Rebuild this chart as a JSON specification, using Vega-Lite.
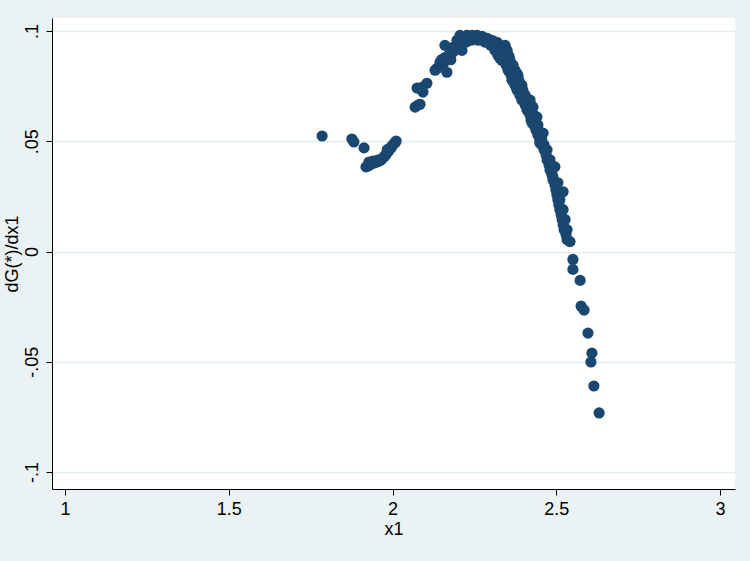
{
  "$schema": "https://vega.github.io/schema/vega-lite/v6.json",
  "width": 683,
  "height": 471,
  "autosize": {"type": "none"},
  "padding": {"left": 52, "top": 18, "right": 15, "bottom": 72},
  "background": "#EAF2F3",
  "config": {
    "view": {"fill": "white", "stroke": null},
    "font": "Liberation Sans",
    "axis": {
      "labelFont": "Liberation Sans",
      "titleFont": "Liberation Sans",
      "labelFontSize": 18,
      "titleFontSize": 18,
      "labelColor": "#000000",
      "titleColor": "#000000",
      "titleFontWeight": "normal",
      "domainColor": "#000000",
      "tickColor": "#000000",
      "domainWidth": 1,
      "tickWidth": 1,
      "tickSize": 6
    }
  },
  "data": {
    "values": [
      {"x1": 1.785, "dG": 0.0524}, {"x1": 1.876, "dG": 0.0510}, {"x1": 1.882, "dG": 0.0497}, {"x1": 1.913, "dG": 0.0470},
      {"x1": 1.919, "dG": 0.0384}, {"x1": 1.925, "dG": 0.0388}, {"x1": 1.930, "dG": 0.0392}, {"x1": 1.934, "dG": 0.0397},
      {"x1": 1.940, "dG": 0.0400}, {"x1": 1.944, "dG": 0.0402}, {"x1": 1.949, "dG": 0.0405}, {"x1": 1.953, "dG": 0.0407},
      {"x1": 1.958, "dG": 0.0410}, {"x1": 1.962, "dG": 0.0413}, {"x1": 1.967, "dG": 0.0418}, {"x1": 1.971, "dG": 0.0425},
      {"x1": 1.976, "dG": 0.0432}, {"x1": 1.980, "dG": 0.0440}, {"x1": 1.986, "dG": 0.0452}, {"x1": 1.990, "dG": 0.0460},
      {"x1": 1.992, "dG": 0.0468}, {"x1": 1.998, "dG": 0.0479}, {"x1": 2.004, "dG": 0.0488}, {"x1": 2.008, "dG": 0.0493},
      {"x1": 2.011, "dG": 0.0501}, {"x1": 1.928, "dG": 0.0405}, {"x1": 1.940, "dG": 0.0410}, {"x1": 1.955, "dG": 0.0415},
      {"x1": 1.984, "dG": 0.0462}, {"x1": 1.996, "dG": 0.0470},
      {"x1": 2.069, "dG": 0.0655}, {"x1": 2.078, "dG": 0.0664}, {"x1": 2.084, "dG": 0.0668}, {"x1": 2.075, "dG": 0.0741},
      {"x1": 2.090, "dG": 0.0745}, {"x1": 2.105, "dG": 0.0763}, {"x1": 2.093, "dG": 0.0723}, {"x1": 2.130, "dG": 0.0822},
      {"x1": 2.136, "dG": 0.0831}, {"x1": 2.145, "dG": 0.0858}, {"x1": 2.154, "dG": 0.0845}, {"x1": 2.166, "dG": 0.0813},
      {"x1": 2.160, "dG": 0.0880}, {"x1": 2.172, "dG": 0.0890}, {"x1": 2.185, "dG": 0.0905}, {"x1": 2.160, "dG": 0.0935},
      {"x1": 2.185, "dG": 0.0926}, {"x1": 2.197, "dG": 0.0940}, {"x1": 2.212, "dG": 0.0912}, {"x1": 2.197, "dG": 0.0958},
      {"x1": 2.206, "dG": 0.0980}, {"x1": 2.150, "dG": 0.0870}, {"x1": 2.178, "dG": 0.0870},
      {"x1": 2.212, "dG": 0.0971}, {"x1": 2.227, "dG": 0.0980}, {"x1": 2.243, "dG": 0.0980}, {"x1": 2.258, "dG": 0.0980},
      {"x1": 2.273, "dG": 0.0976}, {"x1": 2.289, "dG": 0.0967}, {"x1": 2.304, "dG": 0.0958}, {"x1": 2.319, "dG": 0.0949},
      {"x1": 2.298, "dG": 0.0953}, {"x1": 2.328, "dG": 0.0935}, {"x1": 2.344, "dG": 0.0935}, {"x1": 2.335, "dG": 0.0920},
      {"x1": 2.225, "dG": 0.0950}, {"x1": 2.240, "dG": 0.0958}, {"x1": 2.262, "dG": 0.0958}, {"x1": 2.282, "dG": 0.0950},
      {"x1": 2.300, "dG": 0.0935}, {"x1": 2.316, "dG": 0.0925},
      {"x1": 2.313, "dG": 0.0912}, {"x1": 2.337, "dG": 0.0912}, {"x1": 2.350, "dG": 0.0912},
      {"x1": 2.322, "dG": 0.0890}, {"x1": 2.344, "dG": 0.0890}, {"x1": 2.356, "dG": 0.0885},
      {"x1": 2.334, "dG": 0.0867}, {"x1": 2.359, "dG": 0.0867}, {"x1": 2.346, "dG": 0.0862},
      {"x1": 2.347, "dG": 0.0845}, {"x1": 2.368, "dG": 0.0845}, {"x1": 2.357, "dG": 0.0840},
      {"x1": 2.353, "dG": 0.0822}, {"x1": 2.374, "dG": 0.0822}, {"x1": 2.364, "dG": 0.0818},
      {"x1": 2.362, "dG": 0.0799}, {"x1": 2.383, "dG": 0.0799}, {"x1": 2.372, "dG": 0.0795},
      {"x1": 2.365, "dG": 0.0777}, {"x1": 2.386, "dG": 0.0777}, {"x1": 2.376, "dG": 0.0770},
      {"x1": 2.374, "dG": 0.0754}, {"x1": 2.395, "dG": 0.0754}, {"x1": 2.384, "dG": 0.0750},
      {"x1": 2.380, "dG": 0.0732}, {"x1": 2.398, "dG": 0.0732}, {"x1": 2.390, "dG": 0.0726},
      {"x1": 2.389, "dG": 0.0709}, {"x1": 2.405, "dG": 0.0709}, {"x1": 2.397, "dG": 0.0703},
      {"x1": 2.395, "dG": 0.0687}, {"x1": 2.411, "dG": 0.0687}, {"x1": 2.403, "dG": 0.0680},
      {"x1": 2.405, "dG": 0.0664}, {"x1": 2.423, "dG": 0.0664}, {"x1": 2.414, "dG": 0.0658},
      {"x1": 2.411, "dG": 0.0641}, {"x1": 2.423, "dG": 0.0641}, {"x1": 2.417, "dG": 0.0632},
      {"x1": 2.420, "dG": 0.0619}, {"x1": 2.432, "dG": 0.0619},
      {"x1": 2.423, "dG": 0.0596}, {"x1": 2.435, "dG": 0.0596},
      {"x1": 2.432, "dG": 0.0574}, {"x1": 2.444, "dG": 0.0574},
      {"x1": 2.438, "dG": 0.0551}, {"x1": 2.444, "dG": 0.0551},
      {"x1": 2.444, "dG": 0.0528}, {"x1": 2.456, "dG": 0.0528},
      {"x1": 2.450, "dG": 0.0506}, {"x1": 2.456, "dG": 0.0506},
      {"x1": 2.456, "dG": 0.0483}, {"x1": 2.463, "dG": 0.0483},
      {"x1": 2.463, "dG": 0.0461}, {"x1": 2.466, "dG": 0.0461},
      {"x1": 2.469, "dG": 0.0438}, {"x1": 2.472, "dG": 0.0416}, {"x1": 2.478, "dG": 0.0393}, {"x1": 2.481, "dG": 0.0370},
      {"x1": 2.487, "dG": 0.0348}, {"x1": 2.490, "dG": 0.0325}, {"x1": 2.496, "dG": 0.0303}, {"x1": 2.499, "dG": 0.0280},
      {"x1": 2.502, "dG": 0.0257}, {"x1": 2.505, "dG": 0.0235}, {"x1": 2.508, "dG": 0.0212}, {"x1": 2.511, "dG": 0.0190},
      {"x1": 2.515, "dG": 0.0167}, {"x1": 2.518, "dG": 0.0145}, {"x1": 2.521, "dG": 0.0122}, {"x1": 2.524, "dG": 0.0099},
      {"x1": 2.530, "dG": 0.0077}, {"x1": 2.533, "dG": 0.0054},
      {"x1": 2.350, "dG": 0.0899}, {"x1": 2.328, "dG": 0.0876}, {"x1": 2.359, "dG": 0.0836}, {"x1": 2.380, "dG": 0.0808},
      {"x1": 2.368, "dG": 0.0790}, {"x1": 2.389, "dG": 0.0745}, {"x1": 2.398, "dG": 0.0718}, {"x1": 2.420, "dG": 0.0687},
      {"x1": 2.429, "dG": 0.0655}, {"x1": 2.441, "dG": 0.0610}, {"x1": 2.426, "dG": 0.0583}, {"x1": 2.460, "dG": 0.0537},
      {"x1": 2.450, "dG": 0.0492}, {"x1": 2.472, "dG": 0.0461}, {"x1": 2.481, "dG": 0.0416}, {"x1": 2.496, "dG": 0.0384},
      {"x1": 2.490, "dG": 0.0339}, {"x1": 2.505, "dG": 0.0312}, {"x1": 2.521, "dG": 0.0271}, {"x1": 2.511, "dG": 0.0235},
      {"x1": 2.521, "dG": 0.0190}, {"x1": 2.527, "dG": 0.0145}, {"x1": 2.533, "dG": 0.0099}, {"x1": 2.542, "dG": 0.0045},
      {"x1": 2.551, "dG": -0.0036}, {"x1": 2.551, "dG": -0.0081}, {"x1": 2.573, "dG": -0.0131}, {"x1": 2.576, "dG": -0.0248},
      {"x1": 2.585, "dG": -0.0266}, {"x1": 2.597, "dG": -0.0370}, {"x1": 2.609, "dG": -0.0461}, {"x1": 2.606, "dG": -0.0501},
      {"x1": 2.615, "dG": -0.0610}, {"x1": 2.631, "dG": -0.0732}
    ]
  },
  "mark": {"type": "point", "filled": true, "opacity": 1, "size": 125, "color": "#1A476F", "shape": "circle"},
  "encoding": {
    "x": {
      "field": "x1",
      "type": "quantitative",
      "title": "x1",
      "scale": {"domain": [0.96, 3.046], "nice": false, "zero": false},
      "axis": {
        "values": [1, 1.5, 2, 2.5, 3],
        "grid": false,
        "labelPadding": 5,
        "titlePadding": 2,
        "labelExpr": "datum.value == 1 ? '1' : datum.value == 2 ? '2' : datum.value == 3 ? '3' : datum.value < 2 ? '1.5' : '2.5'"
      }
    },
    "y": {
      "field": "dG",
      "type": "quantitative",
      "title": "dG(*)/dx1",
      "scale": {"domain": [-0.1077, 0.1059], "nice": false, "zero": false},
      "axis": {
        "values": [-0.1, -0.05, 0, 0.05, 0.1],
        "grid": true,
        "gridColor": "#E3EEF1",
        "gridWidth": 1.5,
        "labelAngle": -90,
        "labelAlign": "center",
        "labelBaseline": "bottom",
        "labelPadding": 5,
        "titlePadding": 2,
        "labelExpr": "datum.value > 0.09 ? '.1' : datum.value > 0.04 ? '.05' : datum.value > -0.01 ? '0' : datum.value > -0.06 ? '-.05' : '-.1'"
      }
    }
  }
}
